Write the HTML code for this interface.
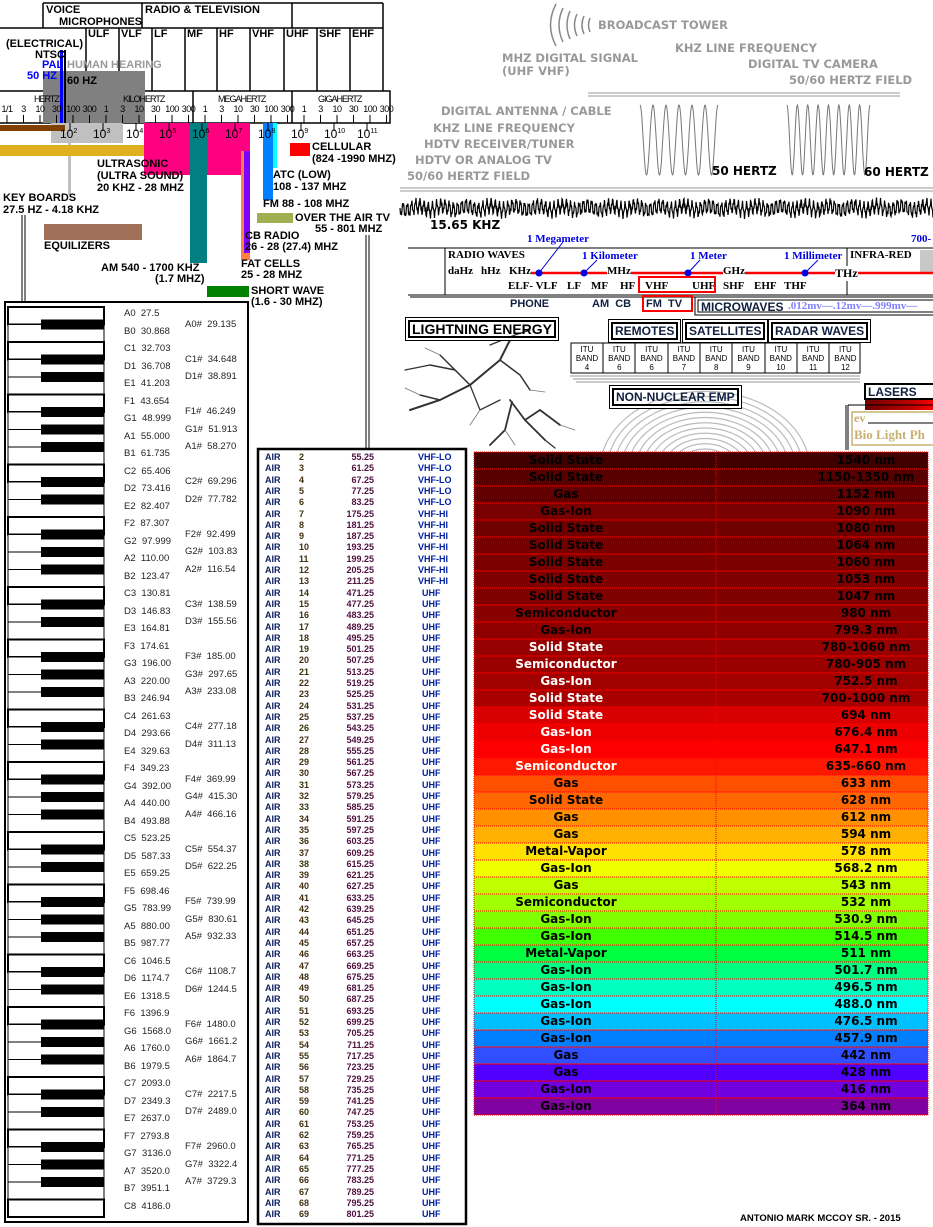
<!DOCTYPE html>
<html><head><meta charset="utf-8">
<style>
*{margin:0;padding:0;box-sizing:border-box}
body{width:933px;height:1227px;position:relative;background:#fff;overflow:hidden;font-family:"Liberation Sans",sans-serif}
.a{position:absolute;white-space:nowrap}
.b{font-weight:bold;font-size:11px;color:#000}
.g{font-family:"DejaVu Sans",sans-serif;font-weight:bold;font-size:11.5px;color:#999}
.s{font-family:"Liberation Serif",serif;font-weight:bold;font-size:11px}
.r{position:absolute}
.box{position:absolute;border:2px solid #000;font-weight:bold;font-size:12px;padding:0 2px;line-height:14px;box-shadow:0 0 0 2px #fff,0 0 0 3px #000}
</style></head>
<body>
<svg class="r" style="left:0;top:0" width="933" height="1227">
 <g stroke="#000" stroke-width="1.5" fill="none">
  <path d="M43 3H383M43 3V28M142 3V28M292 3V28M383 3V91M43 28H383M0 28H43M86 28V91M119 28V91M152 28V91M185 28V91M217 28V91M250 28V91M284 28V91M317 28V91M350 28V91M0 91H390V123H0M95 91V123M193 91V123M292 91V123"/>
 </g>
 <rect x="43" y="71" width="102" height="52" fill="#808080"/>
 <rect x="51" y="123" width="72" height="20" fill="#c0c0c0"/>
 <rect x="60" y="50" width="3" height="73" fill="#0000ff"/>
 <rect x="64" y="50" width="2" height="73" fill="#000"/>
 <rect x="0" y="125" width="65" height="6" fill="#804000"/>
 <rect x="68" y="143" width="3" height="52" fill="#c0c0c0"/>
 <rect x="0" y="145" width="152" height="11" fill="#e0b020"/>
 <rect x="144" y="123" width="106" height="52" fill="#ff0080"/>
 <rect x="190" y="123" width="17" height="140" fill="#008080"/>
 <rect x="241" y="151" width="9" height="109" fill="#ff8040"/>
 <rect x="244" y="151" width="6" height="102" fill="#8000ff"/>
 <rect x="263" y="123" width="10" height="77" fill="#0080ff"/>
 <rect x="273" y="123" width="4" height="45" fill="#00ffff"/>
 <rect x="290" y="143" width="20" height="13" fill="#ff0000"/>
 <rect x="257" y="213" width="36" height="10" fill="#a0b050"/>
 <rect x="44" y="224" width="98" height="16" fill="#a07058"/>
 <rect x="207" y="286" width="42" height="11" fill="#008000"/>
 <g stroke="#000" stroke-width="1"><path d="M22 215V302M25 215V302M366 235V450M369 235V450"/></g>
 <g stroke="#000" stroke-width="1" id="ticks"></g>
 <g stroke="#999" stroke-width="1"><path d="M588 93H900M588 96H900M400 188H933M400 191H933"/></g>
 <g stroke="#888" stroke-width="1.5" fill="none">
  <path d="M556 4Q545 25 556 46"/><path d="M563 8Q555 25 563 42"/><path d="M570 11Q564 25 570 39"/><path d="M577 14Q572 25 577 36"/><path d="M584 16Q580 25 584 34"/><path d="M590 18Q587 25 590 32"/>
 </g>
 <path id="w50" fill="none" stroke="#777" stroke-width="1"/>
 <path id="w60" fill="none" stroke="#777" stroke-width="1"/>
 <path id="noise" fill="none" stroke="#000" stroke-width="1.2"/>
 <g stroke="#000" stroke-width="1"><path d="M408 248H933M408 295H933M445 248V295M847 248V295M410 297H933"/></g>
 <rect x="920" y="250" width="13" height="22" fill="#c8c8c8"/>
 <path d="M510 273H933" stroke="#f00" stroke-width="2.5"/>
 <g fill="#0000e0"><circle cx="539" cy="273" r="3.5"/><circle cx="584" cy="273" r="3.5"/><circle cx="688" cy="273" r="3.5"/><circle cx="805" cy="273" r="3.5"/></g>
 <g stroke="#0000e0" stroke-width="1"><path d="M539 273L563 242M584 273L597 260M688 273L700 260M805 273L818 260"/></g>
 <rect x="639" y="277" width="76" height="15" fill="none" stroke="#f00" stroke-width="2"/>
 <rect x="643" y="296" width="49" height="15" fill="none" stroke="#f00" stroke-width="2"/>
 <rect x="695" y="297" width="240" height="18" fill="none" stroke="#000" stroke-width="1"/>
 <rect x="698" y="300" width="240" height="12" fill="none" stroke="#000" stroke-width="1"/>
 <rect x="571" y="343" width="289" height="30" fill="#fff" stroke="#000" stroke-width="1"/>
 <g stroke="#000"><path d="M603 343V373M635 343V373M668 343V373M700 343V373M732 343V373M765 343V373M797 343V373M829 343V373"/></g>
 <g stroke="#999"><path d="M570 376H860M573 379H860M576 382H860"/></g>
 <g fill="none" stroke="#bbb" stroke-width="1.2" id="rings"></g>
 <g fill="none" stroke="#333" stroke-linecap="round">
  <path stroke-width="2" d="M510 340L500 360L470 385L440 400L410 410"/>
  <path stroke-width="1.5" d="M470 385L455 370L430 365M500 360L520 375L530 390M440 400L420 395M455 370L440 355"/>
  <path stroke-width="1.8" d="M510 400L525 420L545 440M512 402L505 430L490 445M525 420L540 410L560 425"/>
  <path stroke-width="1.3" d="M490 345L515 335L530 330M430 365L405 370M470 385L480 410L500 400M545 440L555 448"/>
  <path stroke-width="0.8" stroke="#777" d="M420 395L405 388M440 355L425 348M530 390L545 392M560 425L575 430M480 410L470 425M505 430L515 445"/>
 </g>
 <rect x="865" y="384" width="70" height="15" fill="#fff" stroke="#000" stroke-width="2"/>
 <defs><linearGradient id="lg" x1="0" x2="1"><stop offset="0" stop-color="#700000"/><stop offset="0.7" stop-color="#c00000"/><stop offset="1" stop-color="#ff0000"/></linearGradient></defs>
 <rect x="865" y="400" width="68" height="10" fill="url(#lg)"/>
 <path d="M846 405V450M848 405V450M848 405H933" stroke="#000" stroke-width="1"/>
 <rect x="852" y="412" width="85" height="33" fill="none" stroke="#c8b070" stroke-width="1.5"/>
 <path d="M868 423H933" stroke="#000" stroke-width="1"/>
 <rect x="5" y="302" width="243" height="920" fill="#fff" stroke="#000" stroke-width="2"/>
 <g id="keys"></g>
 <rect x="258" y="449" width="208" height="775" fill="#fff" stroke="#000" stroke-width="2.5"/>
 <g id="lasers"></g>
</svg>

<div class="a b" style="left:46px;top:4px">VOICE</div>
<div class="a b" style="left:59px;top:16px">MICROPHONES</div>
<div class="a b" style="left:145px;top:4px">RADIO &amp; TELEVISION</div>
<div class="a b" style="left:88px;top:28px">ULF</div>
<div class="a b" style="left:121px;top:28px">VLF</div>
<div class="a b" style="left:154px;top:28px">LF</div>
<div class="a b" style="left:187px;top:28px">MF</div>
<div class="a b" style="left:219px;top:28px">HF</div>
<div class="a b" style="left:252px;top:28px">VHF</div>
<div class="a b" style="left:286px;top:28px">UHF</div>
<div class="a b" style="left:319px;top:28px">SHF</div>
<div class="a b" style="left:352px;top:28px">EHF</div>
<div class="a b" style="left:6px;top:38px">(ELECTRICAL)</div>
<div class="a b" style="left:35px;top:49px">NTSC</div>
<div class="a b" style="left:42px;top:59px;color:#00f">PAL</div>
<div class="a b" style="left:67px;top:59px;color:#999">HUMAN HEARING</div>
<div class="a b" style="left:27px;top:70px;color:#00f">50 HZ</div>
<div class="a b" style="left:67px;top:75px">60 HZ</div>
<div class="a" style="left:34px;top:94px;font-size:9px;letter-spacing:-1px">HERTZ</div>
<div class="a" style="left:123px;top:94px;font-size:9px;letter-spacing:-1px">KILOHERTZ</div>
<div class="a" style="left:218px;top:94px;font-size:9px;letter-spacing:-1px">MEGAHERTZ</div>
<div class="a" style="left:318px;top:94px;font-size:9px;letter-spacing:-1px">GIGAHERTZ</div>
<div id="ticklabels"></div>
<div id="powers"></div>
<div class="a b" style="left:312px;top:141px">CELLULAR</div>
<div class="a b" style="left:312px;top:153px">(824 -1990 MHZ)</div>
<div class="a b" style="left:97px;top:158px">ULTRASONIC</div>
<div class="a b" style="left:97px;top:170px">(ULTRA SOUND)</div>
<div class="a b" style="left:97px;top:182px">20 KHZ - 28 MHZ</div>
<div class="a b" style="left:273px;top:169px">ATC (LOW)</div>
<div class="a b" style="left:273px;top:181px">108 - 137 MHZ</div>
<div class="a b" style="left:3px;top:192px">KEY BOARDS</div>
<div class="a b" style="left:3px;top:204px">27.5 HZ - 4.18 KHZ</div>
<div class="a b" style="left:263px;top:198px">FM 88 - 108 MHZ</div>
<div class="a b" style="left:295px;top:212px">OVER THE AIR TV</div>
<div class="a b" style="left:315px;top:223px">55 - 801 MHZ</div>
<div class="a b" style="left:245px;top:230px">CB RADIO</div>
<div class="a b" style="left:245px;top:241px">26 - 28 (27.4) MHZ</div>
<div class="a b" style="left:44px;top:240px">EQUILIZERS</div>
<div class="a b" style="left:241px;top:258px">FAT CELLS</div>
<div class="a b" style="left:241px;top:269px">25 - 28 MHZ</div>
<div class="a b" style="left:101px;top:262px">AM 540 - 1700 KHZ</div>
<div class="a b" style="left:155px;top:273px">(1.7 MHZ)</div>
<div class="a b" style="left:251px;top:285px">SHORT WAVE</div>
<div class="a b" style="left:251px;top:296px">(1.6 - 30 MHZ)</div>

<div class="a g" style="left:598px;top:18px">BROADCAST TOWER</div>
<div class="a g" style="left:675px;top:41px">KHZ LINE FREQUENCY</div>
<div class="a g" style="left:502px;top:51px">MHZ DIGITAL SIGNAL</div>
<div class="a g" style="left:502px;top:64px">(UHF VHF)</div>
<div class="a g" style="left:748px;top:57px">DIGITAL TV CAMERA</div>
<div class="a g" style="left:789px;top:73px">50/60 HERTZ FIELD</div>
<div class="a g" style="left:441px;top:104px">DIGITAL ANTENNA / CABLE</div>
<div class="a g" style="left:433px;top:121px">KHZ LINE FREQUENCY</div>
<div class="a g" style="left:424px;top:137px">HDTV RECEIVER/TUNER</div>
<div class="a g" style="left:415px;top:153px">HDTV OR ANALOG TV</div>
<div class="a g" style="left:407px;top:169px">50/60 HERTZ FIELD</div>
<div class="a b" style="left:712px;top:164px;font-size:12px;font-family:'DejaVu Sans',sans-serif">50 HERTZ</div>
<div class="a b" style="left:864px;top:165px;font-size:12px;font-family:'DejaVu Sans',sans-serif">60 HERTZ</div>
<div class="a b" style="left:430px;top:218px;font-size:12px;font-family:'DejaVu Sans',sans-serif">15.65 KHZ</div>

<div class="a s" style="left:527px;top:233px;color:#0000e0">1 Megameter</div>
<div class="a s" style="left:911px;top:233px;color:#0000e0">700-</div>
<div class="a s" style="left:448px;top:249px">RADIO WAVES</div>
<div class="a s" style="left:582px;top:250px;color:#0000e0">1 Kilometer</div>
<div class="a s" style="left:690px;top:250px;color:#0000e0">1 Meter</div>
<div class="a s" style="left:784px;top:250px;color:#0000e0">1 Millimeter</div>
<div class="a s" style="left:850px;top:249px">INFRA-RED</div>
<div class="a s" style="left:448px;top:265px;background:#fff">daHz</div>
<div class="a s" style="left:481px;top:265px;background:#fff">hHz</div>
<div class="a s" style="left:509px;top:265px;background:#fff">KHz</div>
<div class="a s" style="left:607px;top:265px;background:#fff">MHz</div>
<div class="a s" style="left:723px;top:265px;background:#fff">GHz</div>
<div class="a s" style="left:835px;top:266px;background:#fff;font-size:12px">THz</div>
<div class="a s" style="left:508px;top:280px">ELF- VLF</div>
<div class="a s" style="left:567px;top:280px">LF</div>
<div class="a s" style="left:591px;top:280px">MF</div>
<div class="a s" style="left:620px;top:280px">HF</div>
<div class="a s" style="left:645px;top:280px">VHF</div>
<div class="a s" style="left:692px;top:280px">UHF</div>
<div class="a s" style="left:723px;top:280px">SHF</div>
<div class="a s" style="left:754px;top:280px">EHF</div>
<div class="a s" style="left:784px;top:280px">THF</div>
<div class="a b" style="left:510px;top:298px;color:#102040">PHONE</div>
<div class="a b" style="left:592px;top:298px;color:#102040">AM &nbsp;CB</div>
<div class="a b" style="left:646px;top:298px;color:#102040">FM &nbsp;TV</div>
<div class="a b" style="left:701px;top:300px;color:#102040;font-size:12px">MICROWAVES</div>
<div class="a s" style="left:788px;top:300px;color:#8080ff">.012mv—.12mv—.999mv—</div>

<div class="box" style="left:408px;top:320px;font-size:14px;line-height:14px">LIGHTNING ENERGY</div>
<div class="box" style="left:611px;top:322px;color:#102040">REMOTES</div>
<div class="box" style="left:685px;top:322px;color:#102040">SATELLITES</div>
<div class="box" style="left:771px;top:322px;color:#102040">RADAR WAVES</div>
<div class="box" style="left:612px;top:388px;color:#102040">NON-NUCLEAR EMP</div>
<div id="itu"></div>
<div class="a b" style="left:868px;top:385px;color:#102040;font-size:12px">LASERS</div>
<div class="a s" style="left:854px;top:411px;color:#c8b070;font-size:12px">ev</div>
<div class="a s" style="left:854px;top:427px;color:#c8b070;font-size:13px">Bio Light Ph</div>

<div id="pianolabels"></div>
<div id="air"></div>
<div id="lasertext"></div>
<div class="a b" style="left:740px;top:1213px;font-size:9.5px">ANTONIO MARK MCCOY SR. - 2015</div>

<script>
const SVGNS='http://www.w3.org/2000/svg';
const tickLabels=['1/1','3','10','30','100','300','1','3','10','30','100','300','1','3','10','30','100','300','1','3','10','30','100','300'];
const powers=['2','3','4','5','6','7','8','9','10','11'];
const whiteNotes=['A0','B0','C1','D1','E1','F1','G1','A1','B1','C2','D2','E2','F2','G2','A2','B2','C3','D3','E3','F3','G3','A3','B3','C4','D4','E4','F4','G4','A4','B4','C5','D5','E5','F5','G5','A5','B5','C6','D6','E6','F6','G6','A6','B6','C7','D7','E7','F7','G7','A7','B7','C8'];
const whiteFreqs=['27.5','30.868','32.703','36.708','41.203','43.654','48.999','55.000','61.735','65.406','73.416','82.407','87.307','97.999','110.00','123.47','130.81','146.83','164.81','174.61','196.00','220.00','246.94','261.63','293.66','329.63','349.23','392.00','440.00','493.88','523.25','587.33','659.25','698.46','783.99','880.00','987.77','1046.5','1174.7','1318.5','1396.9','1568.0','1760.0','1979.5','2093.0','2349.3','2637.0','2793.8','3136.0','3520.0','3951.1','4186.0'];
const blackFreqs={A0:'29.135',C1:'34.648',D1:'38.891',F1:'46.249',G1:'51.913',A1:'58.270',C2:'69.296',D2:'77.782',F2:'92.499',G2:'103.83',A2:'116.54',C3:'138.59',D3:'155.56',F3:'185.00',G3:'297.65',A3:'233.08',C4:'277.18',D4:'311.13',F4:'369.99',G4:'415.30',A4:'466.16',C5:'554.37',D5:'622.25',F5:'739.99',G5:'830.61',A5:'932.33',C6:'1108.7',D6:'1244.5',F6:'1480.0',G6:'1661.2',A6:'1864.7',C7:'2217.5',D7:'2489.0',F7:'2960.0',G7:'3322.4',A7:'3729.3'};
const airChannels=[2,3,4,5,6,7,8,9,10,11,12,13,14,15,16,17,18,19,20,21,22,23,24,25,26,27,28,29,30,31,32,33,34,35,36,37,38,39,40,41,42,43,44,45,46,47,48,49,50,51,52,53,54,55,56,57,58,59,60,61,62,63,64,65,66,67,68,69];
const airFreqs=['55.25','61.25','67.25','77.25','83.25','175.25','181.25','187.25','193.25','199.25','205.25','211.25','471.25','477.25','483.25','489.25','495.25','501.25','507.25','513.25','519.25','525.25','531.25','537.25','543.25','549.25','555.25','561.25','567.25','573.25','579.25','585.25','591.25','597.25','603.25','609.25','615.25','621.25','627.25','633.25','639.25','645.25','651.25','657.25','663.25','669.25','675.25','681.25','687.25','693.25','699.25','705.25','711.25','717.25','723.25','729.25','735.25','741.25','747.25','753.25','759.25','765.25','771.25','777.25','783.25','789.25','795.25','801.25'];
const laserTypes=['Solid State','Solid State','Gas','Gas-Ion','Solid State','Solid State','Solid State','Solid State','Solid State','Semiconductor','Gas-Ion','Solid State','Semiconductor','Gas-Ion','Solid State','Solid State','Gas-Ion','Gas-Ion','Semiconductor','Gas','Solid State','Gas','Gas','Metal-Vapor','Gas-Ion','Gas','Semiconductor','Gas-Ion','Gas-Ion','Metal-Vapor','Gas-Ion','Gas-Ion','Gas-Ion','Gas-Ion','Gas-Ion','Gas','Gas','Gas-Ion','Gas-Ion'];
const laserWaves=['1540 nm','1150-1350 nm','1152 nm','1090 nm','1080 nm','1064 nm','1060 nm','1053 nm','1047 nm','980 nm','799.3 nm','780-1060 nm','780-905 nm','752.5 nm','700-1000 nm','694 nm','676.4 nm','647.1 nm','635-660 nm','633 nm','628 nm','612 nm','594 nm','578 nm','568.2 nm','543 nm','532 nm','530.9 nm','514.5 nm','511 nm','501.7 nm','496.5 nm','488.0 nm','476.5 nm','457.9 nm','442 nm','428 nm','416 nm','364 nm'];
const laserColors=['#400000','#580000','#600000','#780000','#700000','#760000','#7a0000','#7e0000','#800000','#880000','#8e0000','#960000','#9a0000','#a00000','#a80000','#d80000','#ee0000','#ff0000','#ff1800','#ff5000','#ff6800','#ff9000','#ffb000','#ffe000','#f0ff00','#c0ff00','#a0ff00','#80ff00','#40ff00','#00ff40','#00ff80','#00ffc0','#00ffff','#00c0ff','#0080ff','#3050ff','#5000ff','#7000e0','#8000a0'];
const ituBands=['4','6','6','7','8','9','10','11','12'];

function div(parent,html,style){const d=document.createElement('div');d.className='a';d.innerHTML=html;d.style.cssText=style;parent.appendChild(d);return d;}
const tx=i=>7+i*16.5;
const tl=document.getElementById('ticklabels'),tg=document.getElementById('ticks');
tickLabels.forEach((t,i)=>{const d=div(tl,t,`left:${tx(i)-12}px;width:24px;text-align:center;top:104px;font-size:9px;letter-spacing:-0.5px`);


const l=document.createElementNS(SVGNS,'line');l.setAttribute('x1',tx(i));l.setAttribute('x2',tx(i));l.setAttribute('y1',115);l.setAttribute('y2',123);tg.appendChild(l);});
const pw=document.getElementById('powers');
powers.forEach((p,i)=>{const x=70+i*33;const d=div(pw,`10<sup style="font-size:7px">${p}</sup>`,`left:${x-10}px;top:127px;font-size:12px`);


const l=document.createElementNS(SVGNS,'line');l.setAttribute('x1',x);l.setAttribute('x2',x);l.setAttribute('y1',123);l.setAttribute('y2',131);l.setAttribute('stroke','#000');tg.appendChild(l);});
function sine(x0,x1,yc,amp,n){let d='';for(let i=0;i<=200;i++){const x=x0+(x1-x0)*i/200;const y=yc-amp*Math.cos(2*Math.PI*n*i/200);d+=(i?'L':'M')+x.toFixed(1)+' '+y.toFixed(1);}return d;}
document.getElementById('w50').setAttribute('d',sine(640,718,140,35,6));
document.getElementById('w60').setAttribute('d',sine(787,870,140,35,8));
let nd='';for(let i=0;i<=1066;i++){const x=400+i*0.5;const y=208+6*Math.sin(i*0.75)+3*Math.sin(i*2.3)+2*Math.sin(i*0.13);nd+=(i?'L':'M')+x.toFixed(1)+' '+y.toFixed(1);}
document.getElementById('noise').setAttribute('d',nd);
const rg=document.getElementById('rings');
for(let r=14;r<=110;r+=7){const e=document.createElementNS(SVGNS,'path');const cx=705,cy=470;e.setAttribute('d',`M${cx-r} ${cy}A${r} ${r*0.75} 0 0 1 ${cx+r} ${cy}`);rg.appendChild(e);}
const it=document.getElementById('itu');
ituBands.forEach((b,i)=>{const d=div(it,`ITU<br>BAND<br>${b}`,`left:${571+i*32.3}px;width:32px;top:345px;text-align:center;font-size:8px;line-height:9px`);

});
const kg=document.getElementById('keys'),pl=document.getElementById('pianolabels');
const ky=i=>307+i*17.5;
const hasBlack=n=>blackFreqs[n]!==undefined;
whiteNotes.forEach((n,i)=>{
 const d=div(pl,`${n}&nbsp; ${whiteFreqs[i]}`,`left:124px;top:${ky(i)+1}px;font-size:9.5px;color:#222`);
 
 
 const r=document.createElementNS(SVGNS,'rect');r.setAttribute('x',8);r.setAttribute('y',ky(i));r.setAttribute('width',96);r.setAttribute('height',17.5);r.setAttribute('fill','#fff');r.setAttribute('stroke','#000');r.setAttribute('stroke-width',i>0&&hasBlack(whiteNotes[i-1])?1:2);
 
 
 kg.appendChild(r);
});
whiteNotes.forEach((n,i)=>{if(!hasBlack(n))return;const yb=ky(i+1);
 const r=document.createElementNS(SVGNS,'rect');r.setAttribute('x',41);r.setAttribute('y',yb-5);r.setAttribute('width',63);r.setAttribute('height',10);r.setAttribute('fill','#000');
 
 
 kg.appendChild(r);
 const d=div(pl,`${n}#&nbsp; ${blackFreqs[n]}`,`left:185px;top:${yb-6}px;font-size:9.5px;color:#222`);
 
 });
const at=document.getElementById('air');
const ay=i=>452+i*11.3;
airChannels.forEach((c,i)=>{
 const ty=c<=6?'VHF-LO':c<=13?'VHF-HI':'UHF';
 const row=div(at,'',`left:262px;top:${ay(i)}px;width:200px;height:11px;font-size:9px;font-weight:bold;line-height:11px`);
 
 
 row.innerHTML=`<span class="a" style="left:3px;color:#102060">AIR</span><span class="a" style="left:37px;color:#403010">${c}</span><span class="a" style="left:72px;width:40px;text-align:right;color:#501040">${airFreqs[i]}</span><span class="a" style="left:${ty=='UHF'?160:156}px;color:#0020a0">${ty}</span>`;
});
const lg=document.getElementById('lasers'),lt=document.getElementById('lasertext');
const ly=i=>452+i*17;
laserTypes.forEach((t,i)=>{
 const r=document.createElementNS(SVGNS,'rect');r.setAttribute('x',474);r.setAttribute('y',ly(i));r.setAttribute('width',454);r.setAttribute('height',17);r.setAttribute('fill',laserColors[i]);r.setAttribute('stroke','#f00');r.setAttribute('stroke-width',1);r.setAttribute('stroke-dasharray','1 1');
 
 
 lg.appendChild(r);
 const light=i>=11&&i<=18;
 const d1=div(lt,t,`left:474px;width:184px;text-align:center;top:${ly(i)+1}px;font-family:'DejaVu Sans',sans-serif;font-weight:bold;font-size:12px;color:${light?'#fff':'#000'}`);
 
 
 const d2=div(lt,laserWaves[i],`left:716px;width:300px;text-align:center;top:${ly(i)+1}px;font-family:'DejaVu Sans',sans-serif;font-weight:bold;font-size:12px;color:#000`);
 
 
});
const sep=document.createElementNS(SVGNS,'line');sep.setAttribute('x1',716);sep.setAttribute('x2',716);sep.setAttribute('y1',452);sep.setAttribute('y2',1115);sep.setAttribute('stroke','#f00');sep.setAttribute('stroke-dasharray','1 1');lg.appendChild(sep);
</script>
</body></html>
